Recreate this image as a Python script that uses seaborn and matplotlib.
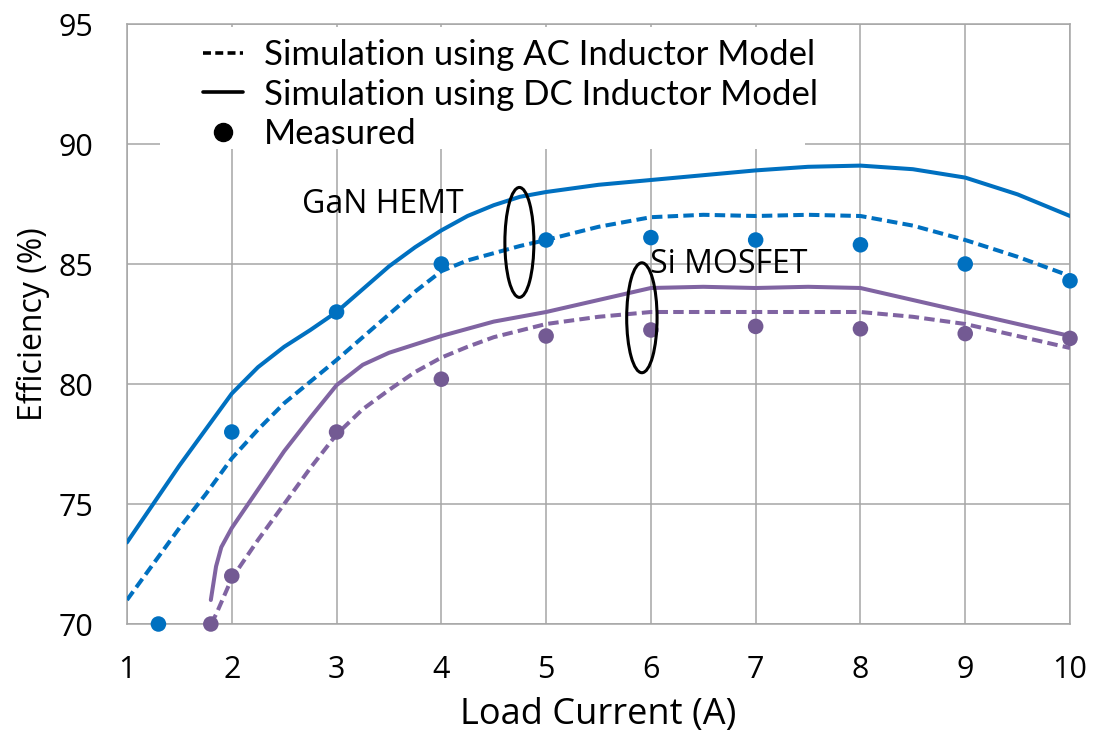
import numpy as np
import pandas as pd
import matplotlib
matplotlib.use('Agg')
import matplotlib.pyplot as plt
import seaborn as sns
from matplotlib.lines import Line2D
from matplotlib.patches import Ellipse, Rectangle

# --- datos ---
gan_dc_x = [1, 1.25, 1.5, 1.75, 2, 2.25, 2.5, 2.75, 3, 3.25, 3.5, 3.75, 4, 4.25, 4.5, 4.75, 5, 5.5, 6, 7, 7.5, 8, 8.5, 9, 9.5, 10]
gan_dc_y = [73.4, 75.0, 76.6, 78.1, 79.6, 80.7, 81.55, 82.25, 83.0, 83.95, 84.9, 85.7, 86.4, 87.0, 87.45, 87.8, 88.0, 88.3, 88.5, 88.9, 89.05, 89.1, 88.95, 88.6, 87.9, 87.0]

gan_ac_x = [1, 1.25, 1.5, 1.75, 2, 2.25, 2.5, 2.75, 3, 3.25, 3.5, 3.75, 4, 4.25, 4.5, 4.75, 5, 5.5, 6, 6.5, 7, 7.5, 8, 8.5, 9, 9.5, 10]
gan_ac_y = [71.0, 72.5, 74.0, 75.4, 76.9, 78.1, 79.2, 80.1, 81.0, 81.95, 82.9, 83.85, 84.7, 85.15, 85.45, 85.75, 86.0, 86.55, 86.95, 87.05, 87.0, 87.05, 87.0, 86.6, 86.0, 85.3, 84.5]

si_dc_x = [1.8, 1.85, 1.9, 2, 2.25, 2.5, 2.75, 3, 3.25, 3.5, 3.75, 4, 4.5, 5, 5.5, 6, 6.5, 7, 7.5, 8, 8.5, 9, 9.5, 10]
si_dc_y = [71.0, 72.4, 73.2, 74.0, 75.6, 77.2, 78.6, 79.95, 80.8, 81.3, 81.65, 82.0, 82.6, 83.0, 83.5, 84.0, 84.05, 84.0, 84.05, 84.0, 83.5, 83.0, 82.5, 82.0]

si_ac_x = [1.8, 1.85, 1.9, 2, 2.25, 2.5, 2.75, 3, 3.25, 3.5, 3.75, 4, 4.25, 4.5, 5, 5.5, 6, 7, 8, 8.5, 9, 9.5, 10]
si_ac_y = [70.0, 70.4, 70.9, 71.9, 73.5, 75.0, 76.5, 77.9, 78.95, 79.75, 80.5, 81.1, 81.55, 81.95, 82.5, 82.8, 83.0, 83.0, 83.0, 82.8, 82.5, 82.0, 81.5]

gan_meas_x = [1.3, 2, 3, 4, 5, 6, 7, 8, 9, 10]
gan_meas_y = [70.0, 78.0, 83.0, 85.0, 86.0, 86.1, 86.0, 85.8, 85.0, 84.3]

si_meas_x = [1.8, 2, 3, 4, 5, 6, 7, 8, 9, 10]
si_meas_y = [70.0, 72.0, 78.0, 80.2, 82.0, 82.25, 82.4, 82.3, 82.1, 81.9]

x_ticks = [1, 2, 3, 4, 5, 6, 7, 8, 9, 10]
y_ticks = [70, 75, 80, 85, 90, 95]

AZUL = '#0070C0'
MORADO = '#8064A2'
MORADO_PUNTO = '#735A93'
GRIS = '#A6A6A6'

sns.set_style('white')
plt.rcParams['font.family'] = ['Open Sans', 'DejaVu Sans']
plt.rcParams['text.color'] = 'black'
plt.rcParams['axes.labelcolor'] = 'black'
plt.rcParams['xtick.color'] = 'black'
plt.rcParams['ytick.color'] = 'black'

fig = plt.figure(figsize=(10.94, 7.36), dpi=100)
ax = fig.add_axes([127 / 1094, 1 - 624 / 736, 943 / 1094, 600 / 736])

lw = 2.9
dash = (0, (2.6, 1.3))

sns.lineplot(x=gan_dc_x, y=gan_dc_y, color=AZUL, lw=lw, ax=ax, sort=False, zorder=3)
sns.lineplot(x=gan_ac_x, y=gan_ac_y, color=AZUL, lw=lw, linestyle=dash, ax=ax, sort=False, zorder=3)
sns.lineplot(x=si_dc_x, y=si_dc_y, color=MORADO, lw=lw, ax=ax, sort=False, zorder=3)
sns.lineplot(x=si_ac_x, y=si_ac_y, color=MORADO, lw=lw, linestyle=dash, ax=ax, sort=False, zorder=3)

sns.scatterplot(x=gan_meas_x, y=gan_meas_y, color=AZUL, s=125, edgecolor='none', ax=ax, zorder=4, clip_on=False)
sns.scatterplot(x=si_meas_x, y=si_meas_y, color=MORADO_PUNTO, s=125, edgecolor='none', ax=ax, zorder=4, clip_on=False)

ax.set_xlim(1, 10)
ax.set_ylim(70, 95)
ax.set_xticks(x_ticks)
ax.set_yticks(y_ticks)
ax.grid(True, color=GRIS, lw=1.1)
for s in ax.spines.values():
    s.set_color(GRIS)
    s.set_linewidth(1.1)
ax.tick_params(axis='both', length=0, labelsize=22)
ax.tick_params(axis='x', pad=22)
ax.tick_params(axis='y', pad=24)

ax.set_xlabel('Load Current (A)', fontsize=26, labelpad=9)
ax.set_ylabel('Efficiency (%)', fontsize=23, labelpad=6)

# elipses y textos de anotacion
ax.add_patch(Ellipse((4.745, 85.9), 0.277, 4.58, fill=False, ec='black', lw=2.2, zorder=5))
ax.add_patch(Ellipse((5.914, 82.76), 0.29, 4.58, fill=False, ec='black', lw=2.2, zorder=5))
ax.text(2.667, 87.46, 'GaN HEMT', fontsize=23, va='center', ha='left')
ax.text(5.99, 85.0, 'Si MOSFET', fontsize=23, va='center', ha='left')

# fondo blanco de la leyenda
ax.add_patch(Rectangle(((160 - 127) / 943, (624 - 149) / 600), (805 - 160) / 943, (149 - 27) / 600,
                       transform=ax.transAxes, fc='white', ec='none', zorder=2.5))

handles = [
    Line2D([], [], color='black', lw=2.6, linestyle=(0, (2.2, 1.2))),
    Line2D([], [], color='black', lw=2.6),
    Line2D([], [], color='black', lw=0, marker='o', markersize=13),
]
labels = ['Simulation using AC Inductor Model', 'Simulation using DC Inductor Model', 'Measured']
leg = ax.legend(handles, labels, loc='upper left', bbox_to_anchor=((203 - 127) / 943, (624 - 39) / 600),
                frameon=False, prop={'family': ['Lato', 'DejaVu Sans'], 'size': 25},
                handlelength=1.15, handletextpad=0.6, labelspacing=0.22, borderpad=0, borderaxespad=0)
leg.set_zorder(6)

fig.savefig('out.png', dpi=100)
